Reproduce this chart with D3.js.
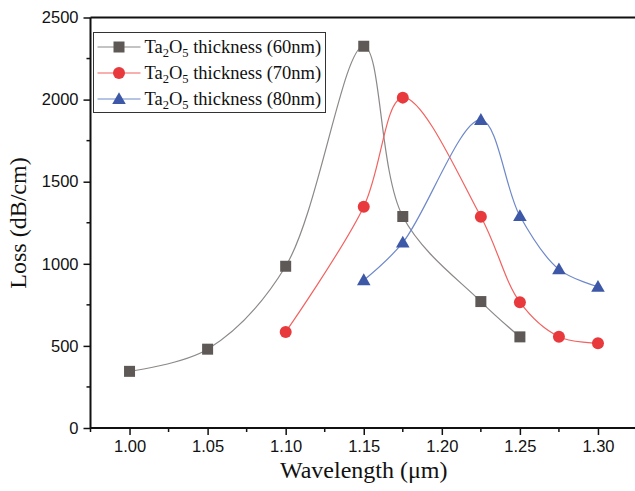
<!DOCTYPE html>
<meta charset="utf-8">
<body style="margin:0;background:#fff">
<script src="https://d3js.org/d3.v7.min.js"></script>
<div id="chart"></div>
<script>

// wavelength (um) and loss (dB/cm)
var wl60 = [1.00, 1.05, 1.10, 1.15, 1.175, 1.225, 1.25]
var loss60 = [345, 480, 985, 2325, 1288, 770, 555]

var wl70 = [1.10, 1.15, 1.175, 1.225, 1.25, 1.275, 1.30]
var loss70 = [585, 1348, 2012, 1287, 766, 556, 516]

var wl80 = [1.15, 1.175, 1.225, 1.25, 1.275, 1.30]
var loss80 = [900, 1129, 1876, 1291, 966, 860]

var seriesNames = ["60nm", "70nm", "80nm"]
var xTicks = [1.00, 1.05, 1.10, 1.15, 1.20, 1.25, 1.30]
var yTicks = [0, 500, 1000, 1500, 2000, 2500]

var W = 635, H = 491
var margin = {top: 17.5, right: -2, bottom: 63, left: 90.5}

var svg = d3.select("#chart").append("svg")
  .attr("width", W)
  .attr("height", H)
  .style("display", "block")

var x = d3.scaleLinear().domain([0.975, 1.325]).range([margin.left, W - margin.right])
var y = d3.scaleLinear().domain([0, 2500]).range([H - margin.bottom, margin.top])

var series = [
  {name: seriesNames[0], xs: wl60, ys: loss60, line: "#8c8886", fill: "#5e5956", shape: "square"},
  {name: seriesNames[1], xs: wl70, ys: loss70, line: "#f2625f", fill: "#e8393d", shape: "circle"},
  {name: seriesNames[2], xs: wl80, ys: loss80, line: "#6d88c9", fill: "#3d58a7", shape: "triangle"}
]

// minor ticks
var xMinor = d3.range(0.975, 1.33, 0.025).filter(function(v){ return Math.abs(Math.round(v*20) - v*20) > 0.01 })
var yMinor = d3.range(250, 2500, 500)

var g = svg.append("g")

g.selectAll(".xmin").data(xMinor).join("line")
  .attr("x1", d => x(d)).attr("x2", d => x(d))
  .attr("y1", y(0)).attr("y2", y(0) + 4)
  .attr("stroke", "#111").attr("stroke-width", 1.5)
g.selectAll(".ymin").data(yMinor).join("line")
  .attr("x1", x(0.975) - 4).attr("x2", x(0.975))
  .attr("y1", d => y(d)).attr("y2", d => y(d))
  .attr("stroke", "#111").attr("stroke-width", 1.5)

// axes
var xAxis = g.append("g")
  .attr("transform", "translate(0," + y(0) + ")")
  .call(d3.axisBottom(x).tickValues(xTicks).tickFormat(d3.format(".2f")).tickSize(7).tickPadding(5))
var yAxis = g.append("g")
  .attr("transform", "translate(" + x(0.975) + ",0)")
  .call(d3.axisLeft(y).tickValues(yTicks).tickFormat(d3.format("d")).tickSize(7).tickPadding(5))

;[xAxis, yAxis].forEach(function(a){
  a.select(".domain").attr("stroke", "#111").attr("stroke-width", 2)
  a.selectAll(".tick line").attr("stroke", "#111").attr("stroke-width", 1.5)
  a.selectAll("text")
    .style("font-family", "'Liberation Sans', Arial, sans-serif")
    .style("font-size", "16.5px")
    .attr("fill", "#111")
})
xAxis.select(".domain").attr("d", "M" + x(0.975) + ",0H" + W)
yAxis.select(".domain").attr("d", "M0," + y(0) + "V" + y(2500))

// top frame
g.append("line")
  .attr("x1", x(0.975)).attr("x2", W)
  .attr("y1", y(2500)).attr("y2", y(2500))
  .attr("stroke", "#111").attr("stroke-width", 2)

// curves
var line = d3.line()
  .x(d => x(d[0])).y(d => y(d[1]))
  .curve(d3.curveCatmullRom.alpha(0.5))

function marker(sel, s) {
  if (s.shape === "square") {
    sel.append("rect").attr("x", -5.5).attr("y", -5.5).attr("width", 11).attr("height", 11)
      .attr("fill", s.fill)
  } else if (s.shape === "circle") {
    sel.append("circle").attr("r", 6).attr("fill", s.fill)
  } else {
    sel.append("path").attr("d", d3.symbol(d3.symbolTriangle, 80)()).attr("transform", "translate(0,1)")
      .attr("fill", s.fill)
  }
}

series.forEach(function(s){
  var pts = s.xs.map((v, i) => [v, s.ys[i]])
  g.append("path")
    .attr("d", line(pts))
    .attr("fill", "none")
    .attr("stroke", s.line)
    .attr("stroke-width", 1.2)
  g.selectAll(null).data(pts).join("g")
    .attr("transform", d => "translate(" + x(d[0]) + "," + y(d[1]) + ")")
    .each(function(){ marker(d3.select(this), s) })
})

// legend
var leg = svg.append("g").attr("transform", "translate(93.5,32.5)")
leg.append("rect").attr("width", 232).attr("height", 80)
  .attr("fill", "#fff").attr("stroke", "#333").attr("stroke-width", 1)
series.forEach(function(s, i){
  var row = leg.append("g").attr("transform", "translate(0," + (14.5 + i * 26) + ")")
  row.append("line").attr("x1", 4).attr("x2", 47).attr("stroke", s.line).attr("stroke-width", 1.2)
  marker(row.append("g").attr("transform", "translate(25.5,0)"), s)
  var t = row.append("text").attr("x", 51).attr("y", 6)
    .style("font-family", "'Liberation Serif', 'Times New Roman', serif")
    .style("font-size", "18.5px")
    .attr("fill", "#111")
  t.append("tspan").text("Ta")
  t.append("tspan").text("2").attr("dy", 4).style("font-size", "12.5px")
  t.append("tspan").text("O").attr("dy", -4)
  t.append("tspan").text("5").attr("dy", 4).style("font-size", "12.5px")
  t.append("tspan").text(" thickness (" + s.name + ")").attr("dy", -4)
})

// axis titles
svg.append("text")
  .attr("x", (x(0.975) + W) / 2 + 1).attr("y", 478)
  .attr("text-anchor", "middle")
  .style("font-family", "'Liberation Serif', 'Times New Roman', serif")
  .style("font-size", "24px")
  .attr("fill", "#111")
  .text("Wavelength (\u03bcm)")

svg.append("text")
  .attr("transform", "translate(26," + 223 + ") rotate(-90)")
  .attr("text-anchor", "middle")
  .style("font-family", "'Liberation Serif', 'Times New Roman', serif")
  .style("font-size", "24px")
  .attr("fill", "#111")
  .text("Loss (dB/cm)")

</script>
</body>
